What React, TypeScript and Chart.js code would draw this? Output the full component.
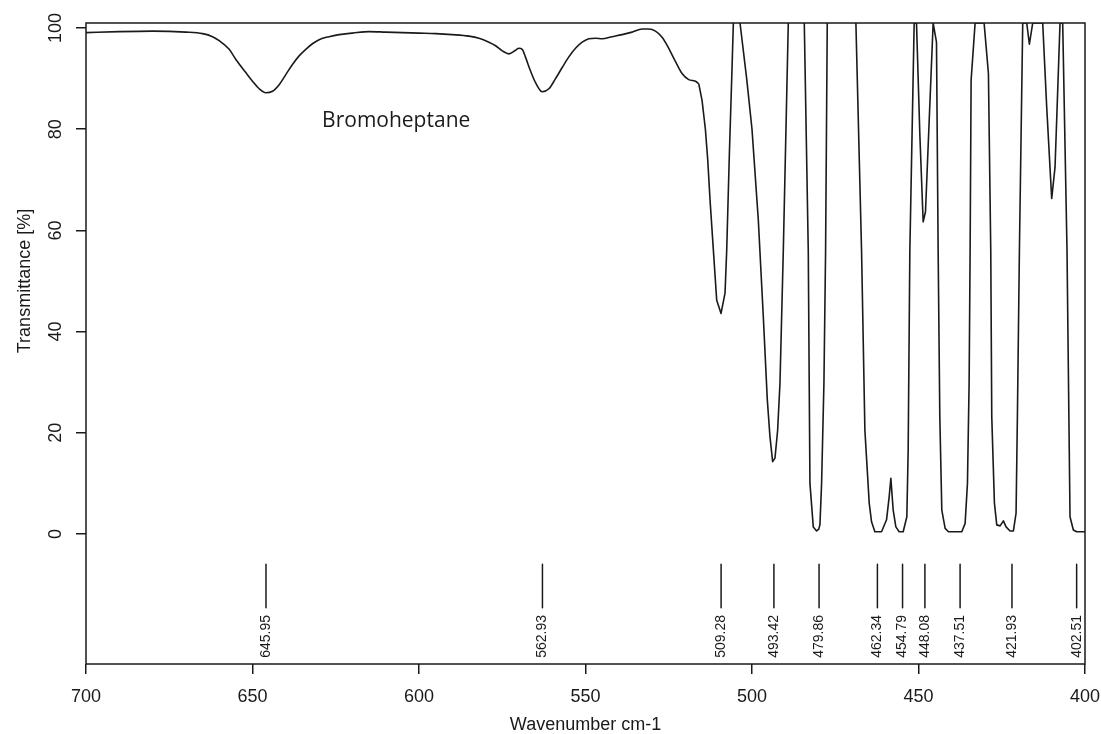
import React, { useEffect, useRef } from 'react';
import { Chart, registerables } from 'chart.js';

Chart.register(...registerables);

// Spectrum (wavenumber cm-1 → transmittance %)
const wavenumbers = [
  700, 690, 680, 670, 665, 662, 660, 657, 655, 652, 650, 648, 646, 644, 642, 640, 638, 636, 634, 632,
  630, 627, 624, 620, 615, 610, 605, 600, 595, 590, 585, 582, 579, 577, 575, 573, 571, 570, 569, 568,
  566.5, 565, 563, 561, 559, 557, 555, 553, 551, 549, 547, 545, 542, 539, 536, 533, 531, 529, 527, 525,
  523, 521, 519, 517, 516, 515, 514, 513.3, 512.6, 511.6, 510.6, 509.3, 508.1, 507.6, 506.8, 506, 505.6, 504.6, 503.6, 501.6,
  500, 498.1, 496.6, 495.4, 494.6, 493.8, 493.1, 492.3, 491.6, 490.6, 489.1, 488, 485, 484.3, 483.1, 482.6, 481.6, 480.6, 480, 479.6,
  479.1, 478.4, 477.9, 477.4, 475, 470, 468.8, 467.1, 466.1, 464.8, 464.1, 463.1, 461.1, 459.6, 458.8, 458.3, 457.6, 456.8, 455.8, 454.6,
  453.5, 453.1, 452.6, 451.3, 450.6, 449.6, 448.6, 447.9, 445.6, 444.6, 444.1, 443.6, 443.0, 442.0, 441.0, 437.0, 436.0, 435.3, 434.8, 434.5,
  434.2, 433.0, 430.3, 429.0, 428.3, 428.0, 427.2, 426.5, 425.5, 424.5, 423.7, 422.5, 421.5, 420.7, 420.3, 419.7, 418.7, 418.0, 417.5, 416.7,
  415.7, 412.7, 411.5, 410.0, 409.0, 408.3, 407.5, 406.7, 405.4, 404.5, 403.5, 402.5, 400,
];
const transmittance = [
  99.1, 99.3, 99.4, 99.2, 98.9, 98.3, 97.5, 95.8, 93.8, 91.2, 89.5, 88.0, 87.2, 87.5, 88.8, 90.8, 92.8, 94.5, 95.8, 96.9,
  97.7, 98.3, 98.7, 99.0, 99.3, 99.2, 99.1, 99.0, 98.9, 98.7, 98.4, 98.0, 97.2, 96.5, 95.5, 94.9, 95.6, 96.0, 95.8, 94.2,
  91.5, 89.2, 87.4, 88.0, 90.0, 92.2, 94.3, 96.0, 97.2, 97.9, 98.0, 97.9, 98.3, 98.7, 99.2, 99.8, 99.8, 99.4, 98.2, 96.0,
  93.4, 91.0, 89.8, 89.5, 89.0, 85.7, 80.0, 74.0, 66.0, 56.1, 46.2, 43.6, 47.6, 56.0, 75.0, 92.0, 101, 103, 101, 90.0,
  80.0, 62.0, 42.9, 26.5, 19.2, 14.3, 15.0, 20.5, 29.8, 56.0, 101, 104, 104, 101, 56.0, 10.0, 1.4, 0.6, 0.9, 1.8,
  10.0, 29.8, 56.0, 101, 105, 105, 101, 56.0, 20.5, 6.1, 2.4, 0.45, 0.45, 2.8, 7.4, 11.0, 4.7, 1.4, 0.45, 0.45,
  3.4, 16.6, 56.0, 101, 101, 79.0, 61.7, 63.7, 101, 97.2, 56.0, 23.2, 4.7, 1.1, 0.45, 0.45, 2.1, 10.0, 29.8, 56.0,
  89.7, 101, 101, 91.0, 56.0, 23.2, 6.1, 1.8, 1.6, 2.6, 1.4, 0.6, 0.6, 4.1, 23.2, 56.0, 101, 101, 101, 96.8,
  101, 101, 84.4, 66.3, 72.5, 85.7, 101, 101, 56.0, 3.4, 0.8, 0.45, 0.45,
];

// Picked peaks
const peakPositions = [645.95, 562.93, 509.28, 493.42, 479.86, 462.34, 454.79, 448.08, 437.51, 421.93, 402.51];
const peakLabels = ['645.95', '562.93', '509.28', '493.42', '479.86', '462.34', '454.79', '448.08', '437.51', '421.93', '402.51'];

// Axis ticks
const xTickValues = [700, 650, 600, 550, 500, 450, 400];
const yTickValues = [0, 20, 40, 60, 80, 100];

const xTitle = 'Wavenumber cm-1';
const yTitle = 'Transmittance [%]';
const compoundName = 'Bromoheptane';

const FONT = '"Liberation Sans", Arial, Helvetica, sans-serif';
const INK = '#1a1a1a';

// the broad bands above this wavenumber are drawn smoothed, the sharp ones below as a polyline
const SMOOTH_LIMIT = 516;

const MARKER_TOP = -6.0;
const MARKER_BOTTOM = -14.6;
const PEAK_LABEL_Y = -16.0;

const overlayPlugin = {
  id: 'overlay',
  afterDraw(chart: any) {
    const { ctx, chartArea: a, scales } = chart;
    const xs = scales.x;
    const ys = scales.y;
    ctx.save();
    ctx.strokeStyle = INK;
    ctx.lineWidth = 1.5;
    ctx.strokeRect(a.left, a.top, a.right - a.left, a.bottom - a.top);

    ctx.fillStyle = INK;
    ctx.font = `18px ${FONT}`;
    // rotated y tick labels
    yTickValues.forEach((v) => {
      const py = ys.getPixelForValue(v);
      ctx.save();
      ctx.translate(61, py);
      ctx.rotate(-Math.PI / 2);
      ctx.textAlign = 'center';
      ctx.textBaseline = 'alphabetic';
      ctx.fillText(String(v), 0, 0);
      ctx.restore();
    });
    // y title
    ctx.save();
    ctx.translate(30, (ys.getPixelForValue(0) + ys.getPixelForValue(100)) / 2);
    ctx.rotate(-Math.PI / 2);
    ctx.textAlign = 'center';
    ctx.textBaseline = 'alphabetic';
    ctx.fillText(yTitle, 0, 0);
    ctx.restore();
    // x title
    ctx.textAlign = 'center';
    ctx.textBaseline = 'alphabetic';
    ctx.fillText(xTitle, (a.left + a.right) / 2, 730);

    // peak labels
    ctx.font = `14px ${FONT}`;
    peakPositions.forEach((p, i) => {
      const px = xs.getPixelForValue(p);
      ctx.save();
      ctx.translate(px, ys.getPixelForValue(PEAK_LABEL_Y));
      ctx.rotate(-Math.PI / 2);
      ctx.textAlign = 'right';
      ctx.textBaseline = 'middle';
      ctx.fillText(peakLabels[i], 0, 0);
      ctx.restore();
    });

    // compound name
    ctx.font = `21px "Open Sans", "Noto Sans", sans-serif`;
    ctx.textAlign = 'left';
    ctx.textBaseline = 'alphabetic';
    ctx.fillText(compoundName, xs.getPixelForValue(629.1), ys.getPixelForValue(80.4));
    ctx.restore();
  },
};

export default function App() {
  const canvasRef = useRef<HTMLCanvasElement | null>(null);

  useEffect(() => {
    if (!canvasRef.current) return;
    const spectrum = wavenumbers.map((w, i) => ({ x: w, y: transmittance[i] }));
    const broadPart = spectrum.filter((p) => p.x >= SMOOTH_LIMIT);
    const sharpPart = spectrum.filter((p) => p.x <= SMOOTH_LIMIT);
    const lineStyle = {
      borderColor: INK,
      borderWidth: 1.6,
      pointRadius: 0,
      fill: false,
      clip: 0,
    };
    const markerSets = peakPositions.map((p) => ({
      data: [
        { x: p, y: MARKER_TOP },
        { x: p, y: MARKER_BOTTOM },
      ],
      borderColor: INK,
      borderWidth: 1.5,
      pointRadius: 0,
      fill: false,
      tension: 0,
    }));
    const chart = new Chart(canvasRef.current, {
      type: 'line',
      data: {
        datasets: [
          { ...lineStyle, data: broadPart, cubicInterpolationMode: 'monotone' } as any,
          { ...lineStyle, data: sharpPart, tension: 0 } as any,
          ...(markerSets as any[]),
        ],
      },
      options: {
        animation: false,
        responsive: false,
        parsing: false as any,
        normalized: true,
        layout: { padding: { left: 0, right: 16, top: 23, bottom: 0 } },
        plugins: { legend: { display: false }, tooltip: { enabled: false } },
        elements: { point: { radius: 0 }, line: { borderJoinStyle: 'round' } },
        scales: {
          x: {
            type: 'linear',
            min: 400,
            max: 700,
            reverse: true,
            afterBuildTicks: (s: any) => {
              s.ticks = xTickValues.map((v) => ({ value: v }));
            },
            afterFit: (s: any) => {
              s.height = 70;
              s.paddingLeft = 0;
              s.paddingRight = 0;
            },
            grid: { drawOnChartArea: false, drawTicks: true, tickLength: 10, color: INK, lineWidth: 1.5 },
            border: { display: false },
            ticks: {
              font: { size: 18, family: FONT },
              color: INK,
              padding: 12,
              maxRotation: 0,
              autoSkip: false,
              callback: (v: any) => String(v),
            },
          },
          y: {
            type: 'linear',
            min: -25.7,
            max: 101,
            afterBuildTicks: (s: any) => {
              s.ticks = yTickValues.map((v) => ({ value: v }));
            },
            afterFit: (s: any) => {
              s.width = 86;
              s.paddingTop = 0;
              s.paddingBottom = 0;
            },
            grid: { drawOnChartArea: false, drawTicks: true, tickLength: 10, color: INK, lineWidth: 1.5 },
            border: { display: false },
            ticks: { display: false },
          },
        },
      },
      plugins: [overlayPlugin],
    });
    return () => chart.destroy();
  }, []);

  return (
    <div style={{ position: 'absolute', left: 0, top: 0, width: 1101, height: 734, background: '#fff' }}>
      <canvas ref={canvasRef} width={1101} height={734} style={{ display: 'block' }} />
    </div>
  );
}
